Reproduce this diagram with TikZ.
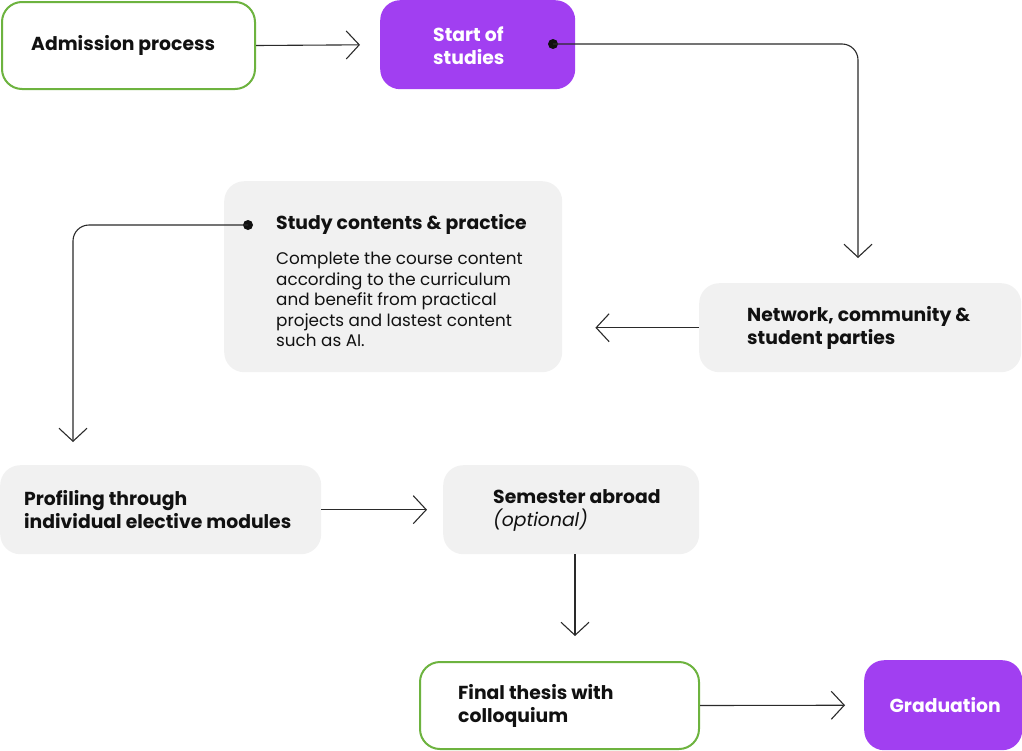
\documentclass[tikz,border=0pt]{standalone}
\usepackage{fontspec}
\setmainfont{Poppins}
\usetikzlibrary{arrows.meta}
\definecolor{purp}{HTML}{A13FF1}
\definecolor{grn}{HTML}{6DB33F}
\definecolor{gry}{HTML}{F1F1F1}
\definecolor{ink}{HTML}{111111}
\definecolor{wire}{HTML}{2A2A2A}
\tikzset{
  basebox/.style={anchor=north west, rounded corners=20pt, inner sep=0pt},
  whitebox/.style={basebox, draw=grn, line width=2pt, fill=white},
  purpbox/.style={basebox, fill=purp},
  greybox/.style={basebox, fill=gry},
  ttl/.style={anchor=west, inner sep=0pt, align=left, text=ink, font=\fontsize{18.8}{23}\selectfont\bfseries},
  wttl/.style={ttl, text=white},
  bodytxt/.style={anchor=north west, inner sep=0pt, align=left, text=ink, font=\fontsize{16.8}{20.5}\selectfont},
  conn/.style={draw=wire, line width=1.1pt, -{Straight Barb[length=13pt,width=28pt,line width=1.1pt]}},
  dotmark/.style={circle, fill=ink, inner sep=0pt, minimum size=10pt}
}
\begin{document}
\begin{tikzpicture}[x=1pt,y=-1pt]
\useasboundingbox (0,0) rectangle (1022,750);
% boxes
\node[whitebox, minimum width=253pt, minimum height=87pt] (adm) at (1,1) {};
\node[purpbox, minimum width=195pt, minimum height=89pt] (start) at (380,0) {};
\node[greybox, minimum width=338pt, minimum height=191pt] (study) at (224,181) {};
\node[greybox, minimum width=322pt, minimum height=89pt] (net) at (699,283) {};
\node[greybox, minimum width=321pt, minimum height=89pt] (prof) at (0,465) {};
\node[greybox, minimum width=256pt, minimum height=89pt] (sem) at (443,465) {};
\node[whitebox, minimum width=279pt, minimum height=87pt] (fin) at (419,661) {};
\node[purpbox, minimum width=158pt, minimum height=90pt] (grad) at (864,660) {};
% texts
\node[ttl] (admt) at ([xshift=30pt]adm.west) {Admission process};
\node[wttl] (startt) at ([xshift=53pt,yshift=-1pt]start.west) {Start of\\studies};
\node[ttl, anchor=base west] (studyt) at (276,229) {Study contents \& practice};
\node[bodytxt] (studyb) at (276,252) {Complete the course content\\according to the curriculum\\and benefit from practical\\projects and lastest content\\such as AI.};
\node[ttl] (nett) at ([xshift=48pt]net.west) {Network, community \&\\student parties};
\node[ttl] (proft) at ([xshift=24pt]prof.west) {Profiling through\\individual elective modules};
\node[ttl] (semt) at ([xshift=50pt,yshift=-1pt]sem.west) {Semester abroad\\{\mdseries\itshape (optional)}};
\node[ttl] (fint) at ([xshift=39pt]fin.west) {Final thesis with\\colloquium};
\node[wttl, anchor=center, align=center] (gradt) at ([xshift=2pt]grad.center) {Graduation};
% dots
\node[dotmark] (d1) at (553,44) {};
\node[dotmark] (d2) at (248,225) {};
\coordinate (c1) at (858,258);
\coordinate (c2) at (73,442);
\coordinate (s1) at (575,554);
\coordinate (s2) at (575,636);
% connectors
\draw[conn, shorten >=20pt] (adm.east) -- (start.west);
\draw[conn, rounded corners=16pt] (d1.center) -| (c1);
\draw[conn, shorten >=33pt] (net.west) -- (study.east |- net.west);
\draw[conn, rounded corners=16pt] (d2.center) -| (c2);
\draw[conn, shorten >=16pt] (prof.east) -- (sem.west);
\draw[conn] (s1) -- (s2);
\draw[conn, shorten >=19pt] (fin.east) -- (grad.west);
\end{tikzpicture}
\end{document}
